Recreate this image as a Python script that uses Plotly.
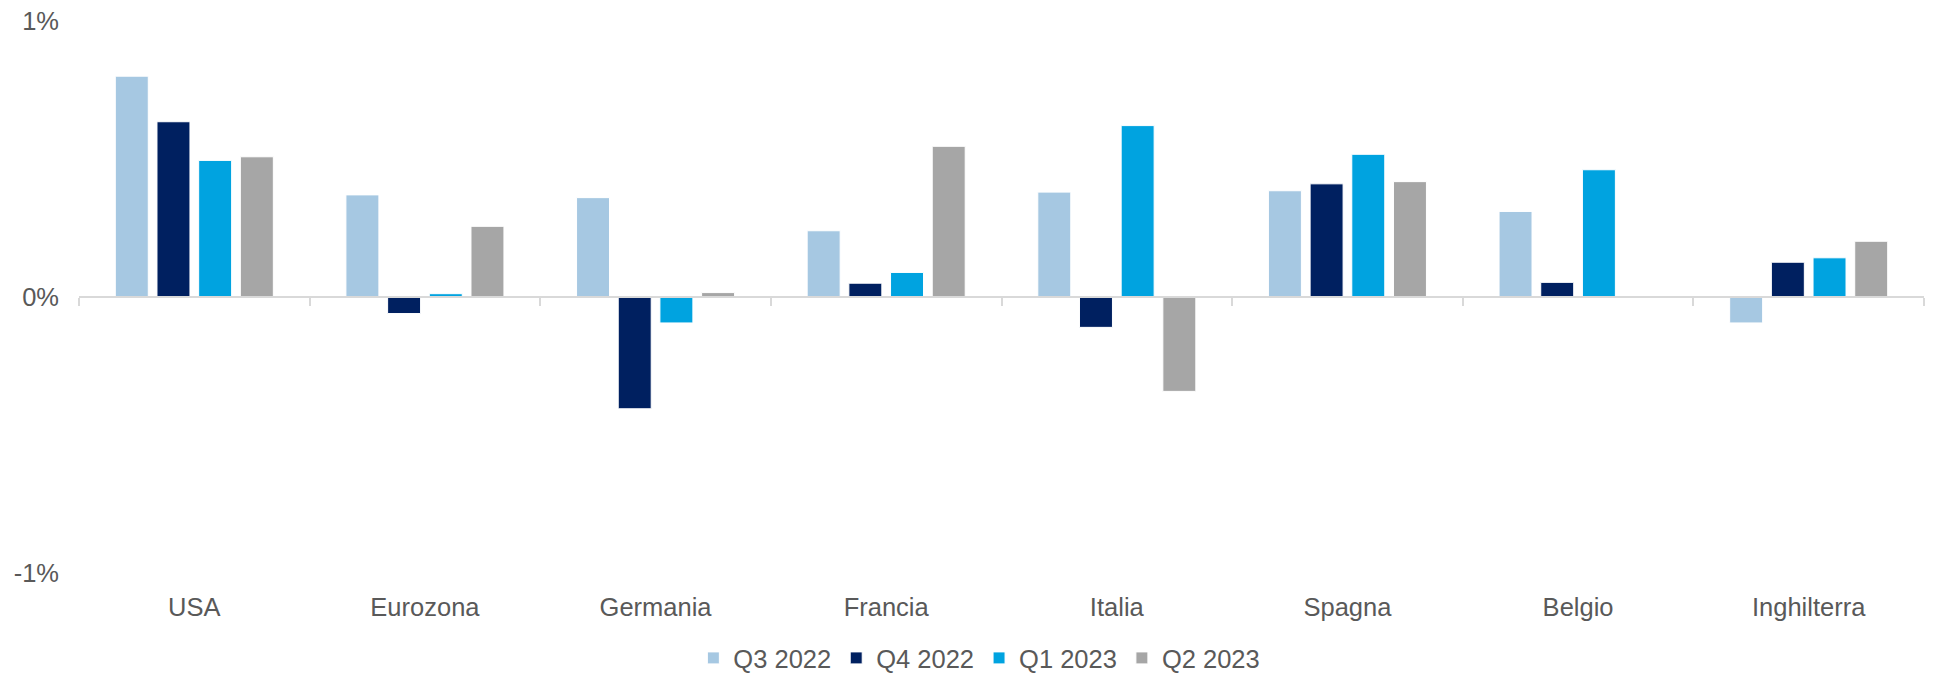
import plotly.graph_objects as go

categories = ["USA", "Eurozona", "Germania", "Francia", "Italia", "Spagna", "Belgio", "Inghilterra"]
q3_2022 = [0.80, 0.37, 0.36, 0.24, 0.38, 0.385, 0.31, -0.094]
q4_2022 = [0.635, -0.06, -0.405, 0.05, -0.11, 0.41, 0.053, 0.126]
q1_2023 = [0.495, 0.012, -0.094, 0.089, 0.621, 0.517, 0.461, 0.142]
q2_2023 = [0.508, 0.256, 0.016, 0.546, -0.342, 0.418, None, 0.202]
series_names = ["Q3 2022", "Q4 2022", "Q1 2023", "Q2 2023"]
series_values = [q3_2022, q4_2022, q1_2023, q2_2023]
colors = ["#A6C8E2", "#002060", "#00A3E0", "#A6A6A6"]
y_ticks = [-1, 0, 1]
y_tick_labels = ["-1%", "0%", "1%"]

FONT = "Liberation Sans, Arial, sans-serif"
FS = 25.5
TXT = "#595959"

fig = go.Figure()
for name, vals, col in zip(series_names, series_values, colors):
    fig.add_trace(go.Bar(
        x=categories, y=vals, name=name,
        marker=dict(color=col, line=dict(color="white", width=1)),
    ))

# invisible trace to draw the category axis on the zero line
fig.add_trace(go.Scatter(x=categories, y=[None] * len(categories), xaxis="x2",
                         showlegend=False, hoverinfo="skip", mode="markers"))

# page body has an 8px default margin, so the figure is sized to fit the window
fig.update_layout(
    width=1926, height=665,
    margin=dict(l=71, r=10, t=13, b=100, autoexpand=False),
    paper_bgcolor="white", plot_bgcolor="white",
    barmode="group", bargap=0.277, bargroupgap=0.209,
    font=dict(family=FONT, size=FS, color=TXT),
    xaxis=dict(type="category", range=[-0.5, 7.5], showline=False, ticks="",
               showgrid=False, zeroline=False, ticklabelstandoff=16, automargin=False,
               tickfont=dict(family=FONT, size=FS, color=TXT)),
    xaxis2=dict(type="category", overlaying="x", anchor="free", position=0.5,
                range=[-0.5, 7.5], categoryarray=categories, categoryorder="array",
                showline=True, linecolor="#D9D9D9", linewidth=2, automargin=False,
                ticks="outside", tickson="boundaries", ticklen=8, tickwidth=2,
                tickcolor="#D9D9D9", showticklabels=False, showgrid=False, zeroline=False),
    yaxis=dict(range=[-1, 1], tickvals=y_ticks, ticktext=y_tick_labels,
               showgrid=False, zeroline=False, showline=False, ticks="",
               ticklabelstandoff=19, automargin=False, ticklabeloverflow="allow",
               tickfont=dict(family=FONT, size=FS, color=TXT)),
    legend=dict(orientation="h", x=0.488, xanchor="center", y=-0.112, yanchor="top",
                font=dict(family=FONT, size=FS, color=TXT),
                itemclick=False, traceorder="normal"),
)

fig.write_html("out.html")
